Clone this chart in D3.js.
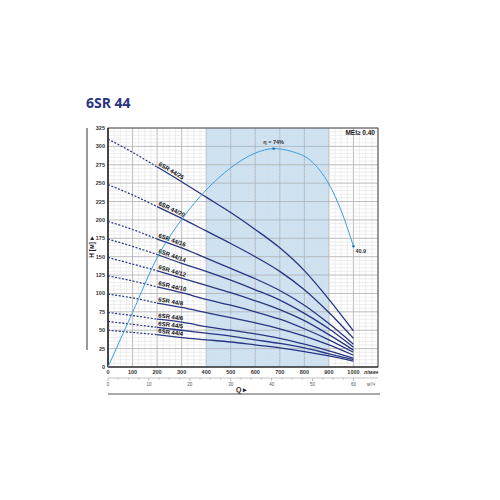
<!DOCTYPE html>
<html>
<head>
<meta charset="utf-8">
<script src="https://cdn.jsdelivr.net/npm/d3@7"></script>
<style>
  body { margin: 0; background: #fff; }
  svg text { font-family: "Liberation Sans Narrow", "Liberation Sans", Arial, sans-serif; }
</style>
</head>
<body>
<svg id="chart" width="500" height="500"></svg>
<script>
// flow points (l/min) at which the head curves were read
const flowPoints = [0, 100, 200, 300, 400, 500, 600, 700, 800, 900, 1000];

// head (m) per model
const models = ["6SR 44/25", "6SR 44/20", "6SR 44/16", "6SR 44/14", "6SR 44/12",
                "6SR 44/10", "6SR 44/8", "6SR 44/6", "6SR 44/5", "6SR 44/4"];
const head25 = [310, 292, 272, 252, 231, 210, 187, 162, 131, 92, 49];
const head20 = [248, 234, 218, 202, 185, 168, 150, 130, 105, 74, 39];
const head16 = [198, 187, 174, 162, 148, 134, 120, 104, 84, 59, 31];
const head14 = [174, 164, 153, 141, 130, 118, 105, 91, 73, 52, 27];
const head12 = [149, 140, 131, 121, 111, 101, 90, 78, 63, 44, 23];
const head10 = [124, 117, 109, 101, 92, 84, 75, 65, 52, 37, 20];
const head8 = [99, 94, 87, 81, 74, 67, 60, 52, 42, 30, 16];
const head6 = [74, 70, 65, 61, 55, 50, 45, 39, 31, 22, 12];
const head5 = [62, 58, 54, 50, 46, 42, 37, 32, 26, 18, 10];
const head4 = [50, 47, 44, 40, 37, 34, 30, 26, 21, 15, 8];
const heads = [head25, head20, head16, head14, head12, head10, head8, head6, head5, head4];

// efficiency curve (%)
const effFlow = [0, 100, 200, 300, 400, 500, 600, 675, 750, 825, 900, 950, 1000];
const effValue = [0, 18.5, 37, 50, 60, 67.5, 72.5, 74, 73, 70, 62, 53, 40.9];

// ticks
const headTicks = d3.range(0, 326, 25);
const flowTicks = d3.range(0, 1001, 100);
const m3hTicks = [0, 10, 20, 30, 40, 50, 60];

const solidFrom = 200;      // curves are dashed below this flow
const band = [400, 900];    // recommended range

const svg = d3.select("#chart");
const navy = "#283582";
const sky = "#3a9fdb";

const x = d3.scaleLinear().domain([0, 1100]).range([108, 378]);
const y = d3.scaleLinear().domain([0, 325]).range([367, 128]);
const yEff = d3.scaleLinear().domain([0, 81]).range([367, 128]);
const xM3 = d3.scaleLinear().domain([0, 66]).range([108, 378]);

// title
svg.append("text").attr("x", 86).attr("y", 108)
    .attr("font-size", 14).attr("font-weight", "bold").attr("fill", navy)
    .style("font-family", "'Open Sans', sans-serif")
    .text("6SR 44");

// recommended band
svg.append("rect")
    .attr("x", x(band[0])).attr("y", y(325))
    .attr("width", x(band[1]) - x(band[0])).attr("height", y(0) - y(325))
    .attr("fill", "#cce3f5");

// grid
const grid = svg.append("g");
grid.selectAll(".vx").data(d3.range(0, 1101, 25)).join("line")
    .attr("x1", d => x(d)).attr("x2", d => x(d))
    .attr("y1", y(0)).attr("y2", y(325))
    .attr("stroke", d => d % 100 === 0 ? "#b4b4b4" : "#dcdcdc")
    .attr("stroke-width", d => d % 100 === 0 ? 0.9 : 0.5);
grid.selectAll(".hy").data(d3.range(0, 326, 5)).join("line")
    .attr("x1", x(0)).attr("x2", x(1100))
    .attr("y1", d => y(d)).attr("y2", d => y(d))
    .attr("stroke", d => d % 25 === 0 ? "#b4b4b4" : "#dcdcdc")
    .attr("stroke-width", d => d % 25 === 0 ? 0.9 : 0.5);

// frame
svg.append("rect")
    .attr("x", x(0)).attr("y", y(325))
    .attr("width", x(1100) - x(0)).attr("height", y(0) - y(325))
    .attr("fill", "none").attr("stroke", "#333").attr("stroke-width", 0.8);
svg.append("line").attr("x1", x(0)).attr("x2", x(0)).attr("y1", y(0)).attr("y2", y(325))
    .attr("stroke", "#222").attr("stroke-width", 1.4);
svg.append("line").attr("x1", x(0)).attr("x2", x(1100)).attr("y1", y(0)).attr("y2", y(0))
    .attr("stroke", "#222").attr("stroke-width", 1.2);

// y tick labels
svg.selectAll(".ylab").data(headTicks).join("text")
    .attr("x", x(0) - 3).attr("y", d => y(d) + 2)
    .attr("text-anchor", "end").attr("font-size", 5.5).attr("font-weight", "bold")
    .attr("fill", "#333").text(d => d);

// x tick labels (l/min)
svg.selectAll(".xlab").data(flowTicks).join("text")
    .attr("x", d => x(d)).attr("y", 374)
    .attr("text-anchor", "middle").attr("font-size", 5.5).attr("font-weight", "bold")
    .attr("fill", "#333").text(d => d);
svg.append("text").attr("x", 364).attr("y", 374).attr("font-size", 5)
    .attr("font-weight", "bold").attr("fill", "#333").text("л/мин");

// second axis (m3/h)
const m3 = svg.append("g");
m3.append("line").attr("x1", xM3(0)).attr("x2", xM3(66)).attr("y1", 378).attr("y2", 378)
    .attr("stroke", "#999").attr("stroke-width", 0.6);
m3.selectAll(".mt").data(d3.range(0, 61, 2.5)).join("line")
    .attr("x1", d => xM3(d)).attr("x2", d => xM3(d))
    .attr("y1", 378).attr("y2", d => d % 10 === 0 ? 381 : 379.5)
    .attr("stroke", "#888").attr("stroke-width", 0.5);
m3.selectAll(".ml").data(m3hTicks).join("text")
    .attr("x", d => xM3(d)).attr("y", 385.5)
    .attr("text-anchor", "middle").attr("font-size", 4.5).attr("fill", "#555").text(d => d);
m3.append("text").attr("x", 367).attr("y", 385.5).attr("font-size", 4.5)
    .attr("fill", "#555").text("м³/ч");

// Q label and bottom rule
svg.append("text").attr("x", 236).attr("y", 391.5).attr("font-size", 7)
    .attr("font-weight", "bold").attr("fill", "#222").text("Q ▸");
svg.append("line").attr("x1", 108).attr("x2", 380).attr("y1", 394).attr("y2", 394)
    .attr("stroke", "#555").attr("stroke-width", 1.2);

// left rule and H label
svg.append("line").attr("x1", 87).attr("x2", 87).attr("y1", 128).attr("y2", 350)
    .attr("stroke", "#555").attr("stroke-width", 1.2);
svg.append("text").attr("transform", "translate(94,247) rotate(-90)")
    .attr("text-anchor", "middle").attr("font-size", 6.5).attr("font-weight", "bold")
    .attr("fill", "#222").text("H [м] ▸");

// head curves
const line = d3.line().x(d => x(d[0])).y(d => y(d[1])).curve(d3.curveMonotoneX);
const curves = svg.append("g");
models.forEach((name, i) => {
    const pts = flowPoints.map((q, j) => [q, heads[i][j]]);
    const dashed = pts.filter(p => p[0] <= solidFrom);
    const solid = pts.filter(p => p[0] >= solidFrom);
    curves.append("path").attr("d", line(dashed))
        .attr("fill", "none").attr("stroke", navy).attr("stroke-width", 1.2)
        .attr("stroke-dasharray", "2,1.6");
    curves.append("path").attr("d", line(solid))
        .attr("fill", "none").attr("stroke", navy).attr("stroke-width", 1.3);

    // label along the curve
    const x0 = x(pts[2][0]), y0 = y(pts[2][1]);
    const x1 = x(pts[3][0]), y1 = y(pts[3][1]);
    const ang = Math.atan2(y1 - y0, x1 - x0) * 180 / Math.PI;
    curves.append("text")
        .attr("transform", `translate(${x0 + 1},${y0 - 1.8}) rotate(${ang})`)
        .attr("font-size", 6).attr("font-weight", "bold").attr("fill", "#111")
        .text(name);
});

// efficiency curve
const effLine = d3.line().x(d => x(d[0])).y(d => yEff(d[1])).curve(d3.curveMonotoneX);
const effPts = effFlow.map((q, j) => [q, effValue[j]]);
svg.append("path").attr("d", effLine(effPts))
    .attr("fill", "none").attr("stroke", sky).attr("stroke-width", 1);

const peakIdx = effValue.indexOf(d3.max(effValue));
const lastIdx = effValue.length - 1;
[peakIdx, lastIdx].forEach(k => {
    svg.append("circle").attr("cx", x(effFlow[k])).attr("cy", yEff(effValue[k]))
        .attr("r", 1.3).attr("fill", "#1f7fc0");
});
svg.append("text").attr("x", x(effFlow[peakIdx])).attr("y", yEff(effValue[peakIdx]) - 5)
    .attr("text-anchor", "middle").attr("font-size", 5.5).attr("font-weight", "bold")
    .attr("fill", "#333").text("η = " + effValue[peakIdx] + "%");
svg.append("text").attr("x", x(effFlow[lastIdx]) + 2).attr("y", yEff(effValue[lastIdx]) + 7)
    .attr("font-size", 5.5).attr("font-weight", "bold")
    .attr("fill", "#333").text(effValue[lastIdx]);

// MEI
svg.append("text").attr("x", 375).attr("y", 135).attr("text-anchor", "end")
    .attr("font-size", 6.5).attr("font-weight", "bold").attr("fill", "#222")
    .text("MEI≥ 0.40");
</script>
</body>
</html>
